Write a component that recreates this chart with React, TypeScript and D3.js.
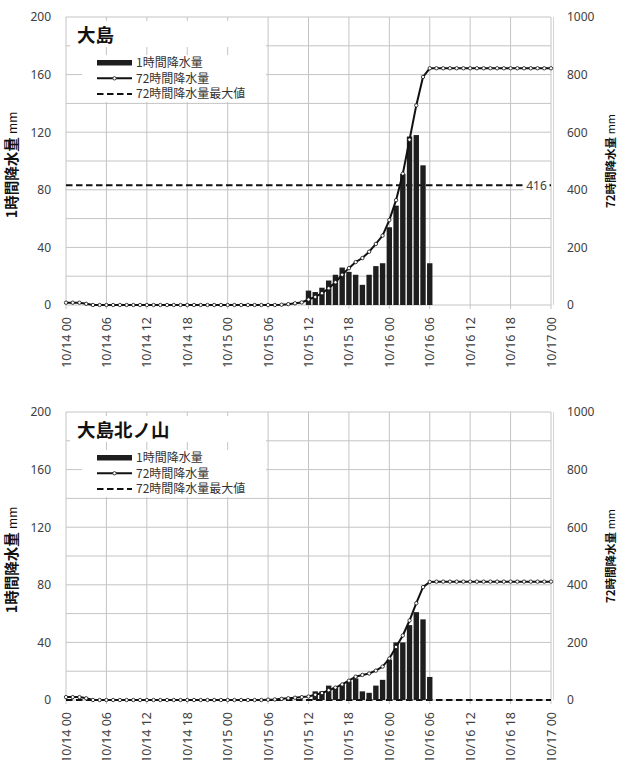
import React from 'react';
import * as d3 from 'd3';

// ---- data (hourly, index 0 = 10/14 00, index 72 = 10/17 00) ----
const TIME_LABELS = [
  '10/14 00', '10/14 06', '10/14 12', '10/14 18',
  '10/15 00', '10/15 06', '10/15 12', '10/15 18',
  '10/16 00', '10/16 06', '10/16 12', '10/16 18', '10/17 00',
];
const LEFT_TICKS = [0, 40, 80, 120, 160, 200];
const RIGHT_TICKS = [0, 200, 400, 600, 800, 1000];

const OSHIMA_1H = [
  0, 0, 0, 0, 0, 0, 0, 0, 0, 0, 0, 0,
  0, 0, 0, 0, 0, 0, 0, 0, 0, 0, 0, 0,
  0, 0, 0, 0, 0, 0, 0, 0, 0, 0, 0, 0,
  10, 9, 12, 17, 21, 26, 23, 21, 14, 21, 27, 29,
  54, 69, 91, 117, 118, 97, 29, 0, 0, 0, 0, 0,
  0, 0, 0, 0, 0, 0, 0, 0, 0, 0, 0, 0,
  0,
];
const OSHIMA_72H = [
  8, 8, 8, 4, 0, 0, 0, 0, 0, 0, 0, 0,
  0, 0, 0, 0, 0, 0, 0, 0, 0, 0, 0, 0,
  0, 0, 0, 0, 0, 0, 0, 0, 1, 3, 6, 9,
  19, 28, 41, 58, 79, 105, 128, 149, 163, 185, 212, 241,
  295, 364, 456, 574, 693, 792, 822, 822, 822, 822, 822, 822,
  822, 822, 822, 822, 822, 822, 822, 822, 822, 822, 822, 822,
  822,
];
const OSHIMA_MAX = 416;

const KITA_1H = [
  0, 0, 0, 0, 0, 0, 0, 0, 0, 0, 0, 0,
  0, 0, 0, 0, 0, 0, 0, 0, 0, 0, 0, 0,
  0, 0, 0, 0, 0, 0, 0, 0, 0, 0, 0, 0,
  0, 6, 6, 10, 9, 11, 13, 15, 6, 5, 10, 14,
  28, 40, 40, 52, 61, 56, 16, 0, 0, 0, 0, 0,
  0, 0, 0, 0, 0, 0, 0, 0, 0, 0, 0, 0,
  0,
];
const KITA_72H = [
  10, 10, 10, 6, 0, 0, 0, 0, 0, 0, 0, 0,
  0, 0, 0, 0, 0, 0, 0, 0, 0, 0, 0, 0,
  0, 0, 0, 0, 0, 0, 1, 2, 4, 6, 8, 10,
  12, 18, 24, 34, 43, 54, 67, 81, 87, 92, 102, 116,
  144, 184, 224, 276, 336, 392, 410, 411, 411, 411, 411, 411,
  411, 411, 411, 411, 411, 411, 411, 411, 411, 411, 411, 411,
  411,
];
const KITA_MAX = 0;

const LEGEND_LABELS = ['1時間降水量', '72時間降水量', '72時間降水量最大値'];

// ---- layout ----
const W = 618;
const H = 760;
const LEFT = 66;
const RIGHT = 551;
const PLOT_H = 288;
const GRID = '#c4c4c4';
const TEXT = '#404040';
const LATIN = "'Noto Sans', 'Noto Sans CJK JP', sans-serif";
const CJK = "'Noto Sans CJK JP', 'Noto Sans', sans-serif";

type PanelProps = {
  top: number;
  title: string;
  rain1h: number[];
  rain72h: number[];
  maxValue: number;
  showMaxLabel: boolean;
};

function Panel({ top, title, rain1h, rain72h, maxValue, showMaxLabel }: PanelProps) {
  const bottom = top + PLOT_H;
  const x = d3.scaleLinear().domain([0, rain1h.length - 1]).range([LEFT, RIGHT]);
  const yL = d3.scaleLinear().domain([0, 200]).range([bottom, top]);
  const yR = d3.scaleLinear().domain([0, 1000]).range([bottom, top]);
  const step = x(1) - x(0);
  const barW = step * 0.8;
  const hGrid = yL.ticks(10);
  const vGrid = TIME_LABELS.map((_, i) => i * 6);
  const line = d3
    .line<number>()
    .x((_, i) => x(i))
    .y((d) => yR(d));
  const midY = (top + bottom) / 2;
  const titleBoxW = 196;
  const maxY = yR(maxValue);

  return (
    <g>
      {/* grid */}
      {hGrid.map((v) => (
        <line key={'h' + v} x1={LEFT} x2={RIGHT} y1={yL(v)} y2={yL(v)} stroke={GRID} strokeWidth={1} />
      ))}
      {vGrid.map((v) => (
        <line key={'v' + v} x1={x(v)} x2={x(v)} y1={top} y2={bottom + 4} stroke={GRID} strokeWidth={1} />
      ))}
      <line x1={RIGHT + 2.5} x2={RIGHT + 2.5} y1={top} y2={bottom} stroke="#d4d4d4" strokeWidth={1} />

      {/* max line */}
      <line x1={LEFT} x2={RIGHT} y1={maxY} y2={maxY} stroke="#111" strokeWidth={2} strokeDasharray="6.5,3.5" />
      {showMaxLabel && (
        <g>
          <rect x={x(70) - 14} y={maxY - 7} width={26} height={14} fill="#fff" />
          <text x={x(70) - 1} y={maxY} dy="0.36em" textAnchor="middle" fontFamily={LATIN} fontSize={12} fill={TEXT}>
            {maxValue}
          </text>
        </g>
      )}

      {/* 1h bars */}
      {rain1h.map((v, i) =>
        v > 0 ? (
          <rect key={'b' + i} x={x(i) - barW / 2} y={yL(v)} width={barW} height={yL(0) - yL(v)} fill="#1e1e1e" />
        ) : null
      )}

      {/* 72h line */}
      <path d={line(rain72h) || ''} fill="none" stroke="#111" strokeWidth={2} />
      {rain72h.map((v, i) => (
        <circle key={'c' + i} cx={x(i)} cy={yR(v)} r={1.7} fill="#fff" stroke="#111" strokeWidth={0.8} />
      ))}

      {/* title box */}
      <rect x={70} y={top + 4} width={titleBoxW} height={26} fill="#fff" />
      <text x={77} y={top + 25} fontFamily={CJK} fontWeight="bold" fontSize={18.5} fill="#111">
        {title}
      </text>

      {/* legend */}
      <rect x={82} y={top + 38} width={184} height={47} fill="#fff" />
      <rect x={97} y={top + 43} width={35} height={5.5} fill="#1e1e1e" />
      <line x1={97} x2={132} y1={top + 61.3} y2={top + 61.3} stroke="#111" strokeWidth={2} />
      <circle cx={114.5} cy={top + 61.3} r={1.7} fill="#fff" stroke="#111" strokeWidth={0.8} />
      <line x1={97} x2={132} y1={top + 77} y2={top + 77} stroke="#111" strokeWidth={2} strokeDasharray="6.5,3.5" />
      {LEGEND_LABELS.map((t, i) => (
        <text
          key={t}
          x={136}
          y={top + 45.7 + i * 15.7}
          dy="0.36em"
          fontFamily={CJK}
          fontSize={12}
          fill="#333"
        >
          {t}
        </text>
      ))}

      {/* left axis labels */}
      {LEFT_TICKS.map((v) => (
        <text key={'l' + v} x={51} y={yL(v)} dy="0.36em" textAnchor="end" fontFamily={LATIN} fontSize={12} fill={TEXT}>
          {v}
        </text>
      ))}
      {/* right axis labels */}
      {RIGHT_TICKS.map((v) => (
        <text key={'r' + v} x={567} y={yR(v)} dy="0.36em" textAnchor="start" fontFamily={LATIN} fontSize={12} fill={TEXT}>
          {v}
        </text>
      ))}
      {/* x labels */}
      {TIME_LABELS.map((t, i) => (
        <text
          key={t}
          transform={`translate(${x(i * 6)}, ${bottom + 12}) rotate(-90)`}
          dy="0.36em"
          textAnchor="end"
          fontFamily={LATIN}
          fontSize={12.5}
          fill={TEXT}
        >
          {t}
        </text>
      ))}

      {/* axis titles */}
      <text
        transform={`translate(17, ${midY + 4}) rotate(-90)`}
        textAnchor="middle"
        fontFamily={CJK}
        fontWeight="bold"
        fontSize={14.5}
        fill="#111"
      >
        1時間降水量 <tspan fontWeight="normal" fontSize={12}>mm</tspan>
      </text>
      <text
        transform={`translate(615, ${midY}) rotate(-90)`}
        textAnchor="middle"
        fontFamily={CJK}
        fontWeight="bold"
        fontSize={11.5}
        fill="#111"
      >
        72時間降水量 <tspan fontWeight="normal" fontSize={11}>mm</tspan>
      </text>
    </g>
  );
}

export default function App() {
  return (
    <svg
      width={W}
      height={H}
      viewBox={`0 0 ${W} ${H}`}
      style={{ position: 'absolute', left: 0, top: 0, background: '#fff' }}
    >
      <rect x={0} y={0} width={W} height={H} fill="#fff" />
      <Panel top={17} title="大島" rain1h={OSHIMA_1H} rain72h={OSHIMA_72H} maxValue={OSHIMA_MAX} showMaxLabel={true} />
      <Panel top={412} title="大島北ノ山" rain1h={KITA_1H} rain72h={KITA_72H} maxValue={KITA_MAX} showMaxLabel={false} />
    </svg>
  );
}
